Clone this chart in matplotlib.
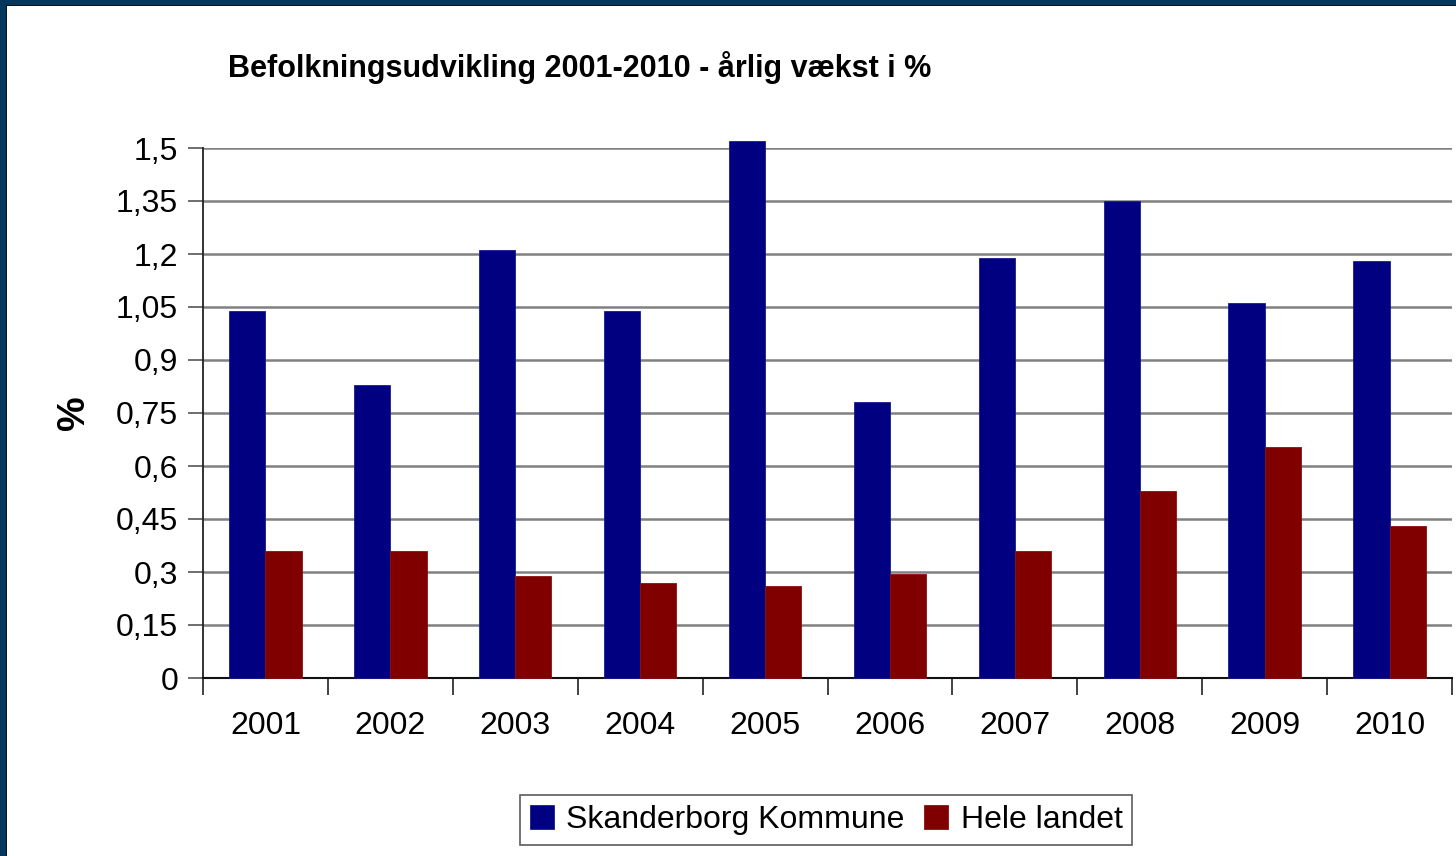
import matplotlib
matplotlib.use("Agg")
import matplotlib.pyplot as plt
import numpy as np
from matplotlib.patches import Rectangle

years = ["2001", "2002", "2003", "2004", "2005", "2006", "2007", "2008", "2009", "2010"]
skanderborg = [1.04, 0.83, 1.21, 1.04, 1.52, 0.78, 1.19, 1.35, 1.06, 1.18]
hele_landet = [0.36, 0.36, 0.29, 0.27, 0.26, 0.295, 0.36, 0.53, 0.655, 0.43]
yticks = [0, 0.15, 0.3, 0.45, 0.6, 0.75, 0.9, 1.05, 1.2, 1.35, 1.5]
ytick_labels = ["0", "0,15", "0,3", "0,45", "0,6", "0,75", "0,9", "1,05", "1,2", "1,35", "1,5"]

plt.rcParams['font.family'] = ['Liberation Sans', 'DejaVu Sans']

fig = plt.figure(figsize=(14.56, 8.56), dpi=100)
fig.patch.set_facecolor('white')

# Dark frame on top and left
W, H = 1456, 856
fig.patches.append(Rectangle((0, 1 - 5 / H), 1, 5 / H, transform=fig.transFigure,
                             facecolor='#04365e', edgecolor='none', zorder=0))
fig.patches.append(Rectangle((0, 1 - 6 / H), 1, 1.2 / H, transform=fig.transFigure,
                             facecolor='#111111', edgecolor='none', zorder=0))
fig.patches.append(Rectangle((0, 0), 6 / W, 1, transform=fig.transFigure,
                             facecolor='#04365e', edgecolor='none', zorder=0))
fig.patches.append(Rectangle((6 / W, 0), 1.2 / W, 1 - 5 / H, transform=fig.transFigure,
                             facecolor='#111111', edgecolor='none', zorder=0))

ax = fig.add_axes([203 / W, 1 - 678 / H, (1452 - 203) / W, (678 - 148) / H])

x = np.arange(len(years))
w = 0.29
b1 = ax.bar(x - w / 2, skanderborg, w, color='#000080', edgecolor='#1a1a90', linewidth=0.6,
            label='Skanderborg Kommune', zorder=3, clip_on=False)
b2 = ax.bar(x + w / 2, hele_landet, w, color='#800000', edgecolor='#8a1010', linewidth=0.6,
            label='Hele landet', zorder=3, clip_on=False)

ax.set_xlim(-0.5, len(years) - 0.5)
ax.set_ylim(0, 1.5)

ax.set_yticks(yticks)
ax.set_yticklabels(ytick_labels, fontsize=23)
ax.yaxis.grid(True, color='#808080', linewidth=1.8, zorder=0)
ax.set_axisbelow(True)

ax.set_xticks(np.arange(-0.5, len(years), 1.0))
ax.set_xticklabels([])
ax.set_xticks(x, minor=True)
ax.set_xticklabels(years, minor=True, fontsize=23)
ax.tick_params(axis='x', which='major', direction='out', length=12, width=1.2, color='#222222')
ax.tick_params(axis='x', which='minor', length=0, pad=24)
ax.tick_params(axis='y', direction='out', length=11, width=1.2, color='#555555', pad=7)

for s in ['top', 'right']:
    ax.spines[s].set_visible(False)
ax.spines['left'].set_color('#222222')
ax.spines['left'].set_linewidth(1.3)
ax.spines['bottom'].set_color('#111111')
ax.spines['bottom'].set_linewidth(1.5)

ax.set_ylabel('%', fontsize=28, fontweight='bold', labelpad=17)

fig.text(580 / W, 1 - 67 / H, 'Befolkningsudvikling 2001-2010 - årlig vækst i %',
         ha='center', va='center', fontsize=22, fontweight='bold')

leg = fig.legend(handles=[b1, b2], loc='center', bbox_to_anchor=(826 / W, 1 - 820 / H),
                 ncol=2, fontsize=23, frameon=True, fancybox=False, shadow=False,
                 handlelength=0.75, handleheight=0.75, handletextpad=0.4, columnspacing=0.6,
                 borderpad=0.3, borderaxespad=0)
leg.get_frame().set_edgecolor('#333333')
leg.get_frame().set_linewidth(1.2)

fig.savefig('out.png', dpi=100, facecolor='white')
